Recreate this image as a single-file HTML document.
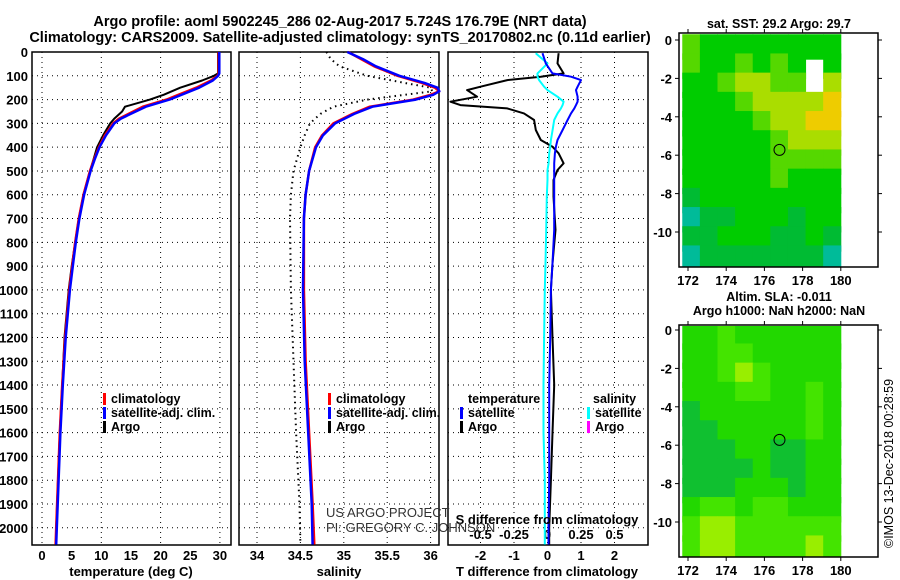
<!DOCTYPE html>
<html><head><meta charset="utf-8"><style>
body{margin:0;background:#fff}
svg{display:block}
text{font-family:"Liberation Sans",Arial,sans-serif;font-weight:bold;fill:#000}
</style></head><body>
<svg id="chart" width="900" height="580" viewBox="0 0 900 580" xmlns="http://www.w3.org/2000/svg">
<text x="340" y="26" text-anchor="middle" font-size="14.5">Argo profile: aoml 5902245_286 02-Aug-2017 5.724S 176.79E (NRT data)</text>
<text x="340" y="42" text-anchor="middle" font-size="14.5">Climatology: CARS2009. Satellite-adjusted climatology: synTS_20170802.nc (0.11d earlier)</text>
<g id="g"></g>
</svg>
<script>
// ---- profile data ----
const depthT = [0,90,100,120,150,180,200,230,250,280,300,350,400,450,500,600,700,800,900,1000,1200,1400,1600,1800,2000,2070];
const tArgo = [29.7,29.7,29.0,27.0,23.3,20.5,18.2,14.0,13.5,12.2,11.5,10.3,9.3,8.7,8.1,7.0,6.2,5.6,5.0,4.5,3.8,3.4,3.0,2.7,2.4,2.35];
const tClim = [29.8,29.8,29.6,28.5,26.0,23.0,21.0,17.0,15.4,13.0,12.0,10.6,9.6,8.8,8.1,7.0,6.2,5.6,5.1,4.6,3.9,3.4,3.0,2.7,2.4,2.3];
const tSat  = [29.9,29.9,29.7,28.8,26.5,23.5,21.5,17.5,15.8,13.3,12.2,10.8,9.7,8.9,8.2,7.1,6.3,5.7,5.2,4.7,4.0,3.5,3.1,2.8,2.5,2.4];
const depthS = [0,30,60,100,130,150,165,180,200,230,260,300,350,400,500,600,700,1000,1300,1600,1900,2070];
const sClim = [35.05,35.2,35.35,35.62,35.9,36.05,36.1,36.0,35.8,35.3,35.1,34.88,34.75,34.67,34.6,34.56,34.54,34.54,34.56,34.6,34.64,34.66];
const sSat  = [35.04,35.22,35.37,35.64,35.93,36.08,36.1,36.03,35.83,35.33,35.12,34.9,34.76,34.68,34.6,34.56,34.54,34.53,34.55,34.59,34.63,34.64];
const sArgo = [34.8,34.85,34.95,35.27,35.7,36.0,36.02,35.7,35.27,34.88,34.73,34.61,34.55,34.5,34.42,34.39,34.38,34.39,34.42,34.45,34.49,34.5];
const depthD = [5,48,90,104,118,146,160,188,209,223,237,258,286,328,370,398,426,468,496,538,608,748,888,1000,1200,1400,1600,1800,2000,2070];
const dArgoT = [0.33,0.3,0.48,-0.2,-1.2,-2.0,-2.4,-2.1,-2.9,-2.6,-1.2,-0.7,-0.4,-0.35,-0.2,0.15,0.33,0.48,0.3,0.18,0.18,0.24,0.15,0.1,0.15,0.2,0.15,0.1,0.05,0.05];
const dSatT = [-0.15,-0.05,0.15,0.7,1.0,0.9,0.85,0.9,0.9,0.85,0.8,0.7,0.6,0.45,0.3,0.25,0.22,0.2,0.2,0.2,0.2,0.2,0.15,0.1,0.08,0.05,0.05,0.05,0.03,0.03];
const dSatS = [-0.088,0,-0.075,-0.075,-0.063,-0.025,0,0.075,0.12,0.113,0.1,0.075,0.05,0.038,0.025,0.02,0.013,0.008,0,0,-0.005,-0.01,-0.015,-0.02,-0.025,-0.03,-0.03,-0.02,-0.02,-0.02];
const depthTicks = [0,100,200,300,400,500,600,700,800,900,1000,1100,1200,1300,1400,1500,1600,1700,1800,1900,2000];
const tempTicks = [0,5,10,15,20,25,30];
const salTicks = [34,34.5,35,35.5,36];
const dTTicks = [-2,-1,0,1,2];
const dSTicks = [-0.5,-0.25,0,0.25,0.5];
const dSTickLabels = ["-0.5","-0.25","0","0.25","0.5"];
// ---- map data (1-degree blocks, lat 0..-12 rows, lon 171.7..180 cols) ----
const sstRows = [
[4,3,3,3,3,3,3,3,3],[4,3,3,4,3,4,3,0,3],[3,3,4,5,5,4,4,0,5],[3,3,3,4,5,5,5,5,6],
[3,3,3,3,4,5,5,6,6],[3,3,3,3,3,4,5,5,5],[3,3,3,3,3,4,4,4,4],[3,3,3,3,3,4,3,3,3],
[2,3,3,3,3,3,3,3,3],[1,2,2,3,3,3,2,3,3],[2,2,3,3,3,2,2,3,2],[1,2,2,2,2,2,2,2,1]];
const slaRows = [
[2,2,3,2,2,2,2,2,2],[2,2,3,3,2,2,2,2,2],[2,2,3,4,3,2,2,2,2],[2,2,2,3,3,2,2,3,2],
[1,2,2,2,2,2,2,3,2],[1,1,2,2,2,2,2,3,2],[1,1,1,2,2,1,1,2,2],[1,1,1,1,2,1,1,2,2],
[1,1,1,2,2,2,1,2,2],[2,3,3,2,3,3,2,2,2],[3,4,4,3,3,3,3,3,3],[3,4,4,3,3,3,3,4,3]];
const lonTicks = [172,174,176,178,180];
const latTicks = [0,-2,-4,-6,-8,-10];
const argoLon = 176.79, argoLat = -5.724;

const NS="http://www.w3.org/2000/svg", G=document.getElementById('g');
function el(t,a,p){const e=document.createElementNS(NS,t);for(const k in a)e.setAttribute(k,a[k]);(p||G).appendChild(e);return e;}
const Y0=52, Y1=545, yD=d=>Y0+d*0.2379;
const xT=v=>42+v*5.93, xS=v=>257+(v-34)*86.8, xD=v=>547.5+v*33.5, xDS=v=>547.5+v*134;
const panels=[[32,231],[239,439],[448,648]];

panels.forEach((p,i)=>{
  const f=el('rect',{x:p[0],y:Y0,width:p[1]-p[0],height:Y1-Y0,fill:'none',stroke:'#000','stroke-width':1.5});
  
  
  depthTicks.forEach(d=>{
    const l=el('line',{x1:p[0],x2:p[1],y1:yD(d),y2:yD(d),stroke:'#000','stroke-dasharray':'1 4','stroke-width':1});
    
    
  });
});
depthTicks.forEach(d=>{
  const t=el('text',{x:28,y:yD(d)+5,'text-anchor':'end','font-size':13});t.textContent=d;
  
  
});
function vgrid(ticks,fx,lbls,ly,name){
  ticks.forEach((v,i)=>{
    const l=el('line',{x1:fx(v),x2:fx(v),y1:Y0,y2:Y1,stroke:'#000','stroke-dasharray':'1 4'});
    
    
    if(lbls){const t=el('text',{x:fx(v),y:ly,'text-anchor':'middle','font-size':13});t.textContent=lbls[i];
    
    }
  });
}
vgrid([0,10,20,30],xT,null,0,'temp');
tempTicks.forEach(v=>{const t=el('text',{x:xT(v),y:560,'text-anchor':'middle','font-size':13});t.textContent=v;
  
  });
vgrid(salTicks,xS,salTicks,560,'salinity');
vgrid(dTTicks,xD,dTTicks,560,'tdiff');
dSTicks.forEach((v,i)=>{const t=el('text',{x:xDS(v),y:539,'text-anchor':'middle','font-size':13});t.textContent=dSTickLabels[i];
  
  });

function line(xs,ds,fx,col,w,name,dash){
  const pts=xs.map((v,i)=>fx(v).toFixed(1)+','+yD(ds[i]).toFixed(1)).join(' ');
  const a={points:pts,fill:'none',stroke:col,'stroke-width':w,'stroke-linejoin':'round'};
  if(dash)a['stroke-dasharray']=dash;
  const e=el('polyline',a);
  
  
}
line(tArgo,depthT,xT,'#000',2,'temp-argo-line');
line(tClim,depthT,xT,'#f00',2.5,'temp-climatology-line');
line(tSat,depthT,xT,'#00f',2.5,'temp-satellite-line');
line(sArgo,depthS,xS,'#000',2,'salinity-argo-line','1.5 4');
line(sClim,depthS,xS,'#f00',2.5,'salinity-climatology-line');
line(sSat,depthS,xS,'#00f',2.5,'salinity-satellite-line');
line(dArgoT,depthD,xD,'#000',2,'tdiff-argo-line');
line(dSatS,depthD,xDS,'#0ff',2,'sdiff-satellite-line');
line(dSatT,depthD,xD,'#00f',2,'tdiff-satellite-line');

function legend(x,y,col,txt,name){
  if(col){const m=el('rect',{x:x,y:y-10,width:3,height:12,fill:col});
  
  }
  const t=el('text',{x:x+8,y:y,'font-size':12.5});t.textContent=txt;
  
  
}
legend(103,403,'#f00','climatology','legend-climatology');
legend(103,417,'#00f','satellite-adj. clim.','legend-satellite-adj');
legend(103,431,'#000','Argo','legend-argo');
legend(328,403,'#f00','climatology','legend2-climatology');
legend(328,417,'#00f','satellite-adj. clim.','legend2-satellite-adj');
legend(328,431,'#000','Argo','legend2-argo');
legend(460,403,null,'temperature','legend3-temperature-header');
legend(460,417,'#00f','satellite','legend3-t-satellite');
legend(460,431,'#000','Argo','legend3-t-argo');
legend(585,403,null,'salinity','legend3-salinity-header');
legend(587,417,'#0ff','satellite','legend3-s-satellite');
legend(587,431,'#f0f','Argo','legend3-s-argo');

function txt(x,y,s,size,name,extra,style){const a=Object.assign({x:x,y:y,'font-size':size},extra||{});const t=el('text',a);t.textContent=s;
  if(style)t.setAttribute('style',style);
  
  return t;}
txt(131,576,'temperature (deg C)',13,'temp-axis-title',{'text-anchor':'middle'});
txt(339,576,'salinity',13,'salinity-axis-title',{'text-anchor':'middle'});
txt(547,576,'T difference from climatology',13,'tdiff-axis-title',{'text-anchor':'middle'});
txt(547,524,'S difference from climatology',13,'sdiff-axis-title',{'text-anchor':'middle'});
txt(326,517,'US ARGO PROJECT',13,'credit-project',{},'font-weight:normal;fill:#333');
txt(326,532,'PI: GREGORY C. JOHNSON',13,'credit-pi',{},'font-weight:normal;fill:#333');

// ---- maps ----
const mx=v=>688+(v-172)*19.1;
function drawMap(y0,yb,top,rows,cols,name){
  const my=v=>y0-v*19.2;
  const w=(180-171.7)/9;
  rows.forEach((r,i)=>r.forEach((c,j)=>{
    if(!c)return;
    const x0=mx(171.7+j*w), x1=mx(171.7+(j+1)*w);
    const ya=Math.max(my(0.3-i),top+1), yb2=Math.min(my(-(i+1)),yb-1);
    const e=el('rect',{x:x0,y:ya,width:x1-x0+0.5,height:yb2-ya+0.5,fill:cols[c]});
    
    
  }));
  const f=el('rect',{x:679,y:top,width:199,height:yb-top,fill:'none',stroke:'#000','stroke-width':1.5});
  
  
  lonTicks.forEach(v=>{
    el('line',{x1:mx(v),x2:mx(v),y1:yb,y2:yb+4,stroke:'#000'});
    el('line',{x1:mx(v),x2:mx(v),y1:top,y2:top-4,stroke:'#000'});
    const t=el('text',{x:mx(v),y:yb+18,'text-anchor':'middle','font-size':13});t.textContent=v;
    
    
  });
  latTicks.forEach(v=>{
    el('line',{x1:679,x2:675,y1:my(v),y2:my(v),stroke:'#000'});
    el('line',{x1:878,x2:882,y1:my(v),y2:my(v),stroke:'#000'});
    const t=el('text',{x:672,y:my(v)+5,'text-anchor':'end','font-size':13});t.textContent=v;
    
    
  });
  const c=el('circle',{cx:mx(argoLon),cy:my(argoLat),r:5.5,fill:'none',stroke:'#000','stroke-width':1});
  
  
}
drawMap(40,267,33,sstRows,{1:'#00bb99',2:'#00bb33',3:'#00cc00',4:'#55d800',5:'#aadd00',6:'#eecc00'},'sst-map');
drawMap(330,557,325,slaRows,{1:'#10c030',2:'#22d800',3:'#44e400',4:'#99ee00'},'sla-map');
txt(779,28,'sat. SST: 29.2 Argo: 29.7',12.5,'sst-map-title',{'text-anchor':'middle'});
txt(779,301,'Altim. SLA: -0.011',12.5,'sla-map-title',{'text-anchor':'middle'});
txt(779,315,'Argo h1000: NaN h2000: NaN',12.5,'sla-map-subtitle',{'text-anchor':'middle'});
txt(0,0,'©IMOS 13-Dec-2018 00:28:59',12.5,'timestamp-credit',{transform:'translate(893,548) rotate(-90)'},'font-weight:normal');
</script>
</body></html>
